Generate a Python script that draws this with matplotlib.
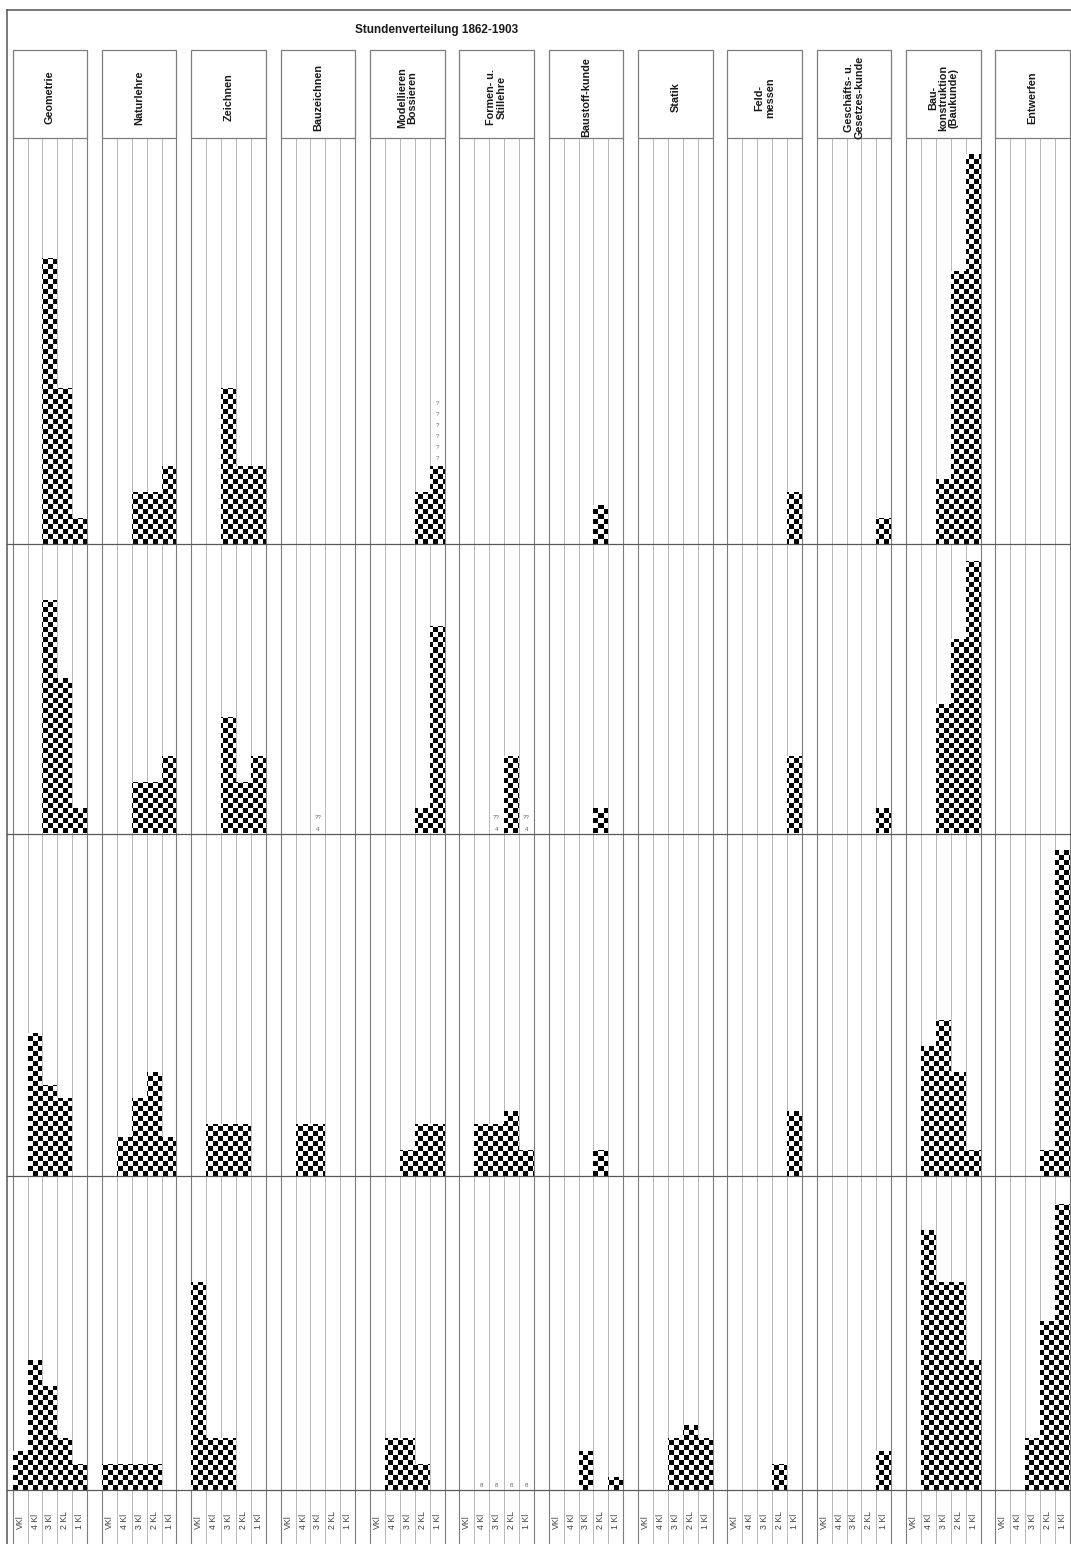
import numpy as np
import matplotlib
matplotlib.use("Agg")
import matplotlib.pyplot as plt
from matplotlib.path import Path
from matplotlib.patches import Rectangle
from matplotlib.lines import Line2D

plt.rcParams['font.family'] = ['Liberation Sans', 'DejaVu Sans']

# ---------------- data ----------------
title = "Stundenverteilung 1862-1903"
subjects = ["Geometrie", "Naturlehre", "Zeichnen", "Bauzeichnen",
            "Modellieren\nBossieren", "Formen- u.\nStillehre", "Baustoff-kunde",
            "Statik", "Feld-\nmessen", "Geschäfts- u.\nGesetzes-kunde",
            "Bau-\nkonstruktion\n(Baukunde)", "Entwerfen"]
classes = ["VKl", "4 Kl", "3 Kl", "2 KL", "1 Kl"]

# hours per class (VKl, 4 Kl, 3 Kl, 2 KL, 1 Kl) for each subject, four periods (top to bottom)
period1 = [[0, 0, 22, 12, 2], [0, 0, 4, 4, 6], [0, 0, 12, 6, 6], [0, 0, 0, 0, 0],
           [0, 0, 0, 4, 6], [0, 0, 0, 0, 0], [0, 0, 0, 3, 0], [0, 0, 0, 0, 0],
           [0, 0, 0, 0, 4], [0, 0, 0, 0, 2], [0, 0, 5, 21, 30], [0, 0, 0, 0, 0]]
period2 = [[0, 0, 18, 12, 2], [0, 0, 4, 4, 6], [0, 0, 9, 4, 6], [0, 0, 0, 0, 0],
           [0, 0, 0, 2, 16], [0, 0, 0, 6, 0], [0, 0, 0, 2, 0], [0, 0, 0, 0, 0],
           [0, 0, 0, 0, 6], [0, 0, 0, 0, 2], [0, 0, 10, 15, 21], [0, 0, 0, 0, 0]]
period3 = [[0, 11, 7, 6, 0], [0, 3, 6, 8, 3], [0, 4, 4, 4, 0], [0, 4, 4, 0, 0],
           [0, 0, 2, 4, 4], [0, 4, 4, 5, 2], [0, 0, 0, 2, 0], [0, 0, 0, 0, 0],
           [0, 0, 0, 0, 5], [0, 0, 0, 0, 0], [0, 10, 12, 8, 2], [0, 0, 0, 2, 25]]
period4 = [[3, 10, 8, 4, 2], [2, 2, 2, 2, 0], [16, 4, 4, 0, 0], [0, 0, 0, 0, 0],
           [0, 4, 4, 2, 0], [0, 0, 0, 0, 0], [0, 0, 3, 0, 1], [0, 0, 4, 5, 4],
           [0, 0, 0, 2, 0], [0, 0, 0, 0, 3], [0, 20, 16, 16, 10], [0, 0, 4, 13, 22]]
periods = [period1, period2, period3, period4]

# ---------------- layout ----------------
W, H = 1071, 1544
fig = plt.figure(figsize=(W / 100, H / 100), dpi=100)
fig.patch.set_facecolor("white")

X0 = 12.7          # left edge of column grid (px)
CW = 14.89         # column width (px)
NG = 12
NCOL = NG * 6
ROWS = [(137.5, 544.3), (544.3, 833.5), (833.5, 1175.5), (1175.5, 1490.0)]
PXH = 13.0         # px per hour
CELL = 5.0         # checker cell size (px)
HDR_TOP = 50.0
DARK = "#7d7d7d"
LIGHT = "#b8b8b8"


def fx(x):
    return x / W


def fy(y):
    return 1 - y / H


def vgrid(ax):
    for c in range(NCOL + 1):
        dark = (c % 6) in (0, 5)
        ax.axvline(c, color=DARK if dark else LIGHT, lw=0.8 if dark else 0.7,
                   zorder=1, clip_on=False)


axes = []
for r, (top, bot) in enumerate(ROWS):
    ax = fig.add_axes([fx(X0), fy(bot), NCOL * CW / W, (bot - top) / H])
    ymax = (bot - top) / PXH
    xs, hs = [], []
    for g, vals in enumerate(periods[r]):
        for k, v in enumerate(vals):
            xs.append(g * 6 + k)
            hs.append(v)
    bars = ax.bar(xs, hs, width=1, align="edge", facecolor="none",
                  edgecolor="none", zorder=2)
    # checkerboard fill clipped to the bars (cells of exactly CELL px)
    nx = int(np.ceil(NCOL * CW / CELL))
    ny = int(np.ceil((bot - top) / CELL))
    yy, xx = np.mgrid[0:ny, 0:nx]
    img = ((xx + yy) % 2).astype(float)
    im = ax.imshow(img, extent=(0, nx * CELL / CW, 0, ny * CELL / PXH),
                   origin="lower", cmap="gray", vmin=0, vmax=1,
                   interpolation="nearest", aspect="auto", zorder=3)
    paths = [p.get_path().transformed(p.get_patch_transform())
             for p in bars.patches if p.get_height() > 0]
    im.set_clip_path(Path.make_compound_path(*paths), transform=ax.transData)
    vgrid(ax)
    ax.set_xlim(0, NCOL)
    ax.set_ylim(0, ymax)
    ax.axis("off")
    axes.append(ax)

# annotations (question marks etc.)
ann = dict(ha="center", va="center", fontsize=4.5, color="#666666", zorder=5)
for i in range(6):
    axes[0].text(4 * 6 + 4 + 0.5, 6.6 + i * 0.85, "?", **ann)
for g, k in [(3, 2), (5, 2), (5, 4)]:
    axes[1].text(g * 6 + k + 0.5, 1.2, "??", **ann)
    axes[1].text(g * 6 + k + 0.5, 0.3, "4", **ann)
for k in [1, 2, 3, 4]:
    axes[3].text(5 * 6 + k + 0.5, 0.35, "8", **ann)

# header boxes
hax = fig.add_axes([fx(X0), fy(ROWS[0][0]), NCOL * CW / W, (ROWS[0][0] - HDR_TOP) / H])
hax.set_xlim(0, NCOL)
hax.set_ylim(0, 1)
hax.axis("off")
for g, name in enumerate(subjects):
    hax.add_patch(Rectangle((g * 6, 0), 5, 1, facecolor="white", edgecolor=DARK,
                            lw=0.9, clip_on=False))
    hax.text(g * 6 + 2.5, 0.457, name, rotation=90, ha="center", va="center",
             multialignment="center", fontsize=7.8, fontweight="bold",
             color="#1a1a1a", linespacing=1.05)

# bottom class labels
bax = fig.add_axes([fx(X0), 0, NCOL * CW / W, (H - ROWS[-1][1]) / H])
bax.set_xlim(0, NCOL)
bax.set_ylim(0, 1)
bax.axis("off")
vgrid(bax)
for g in range(NG):
    for k, lab in enumerate(classes):
        bax.text(g * 6 + k + 0.5, 0.28, lab, rotation=90, ha="center",
                 va="bottom", fontsize=6.3, color="#444444")

# horizontal separators and frame
for y in [ROWS[0][1], ROWS[1][1], ROWS[2][1], ROWS[3][1]]:
    fig.add_artist(Line2D([fx(6.7), fx(W)], [fy(y), fy(y)], color="#5a5a5a",
                          lw=0.9, transform=fig.transFigure))
fig.add_artist(Line2D([fx(6.7), fx(6.7)], [fy(9.6), 0], color="#555555",
                      lw=1.1, transform=fig.transFigure))
fig.add_artist(Line2D([fx(6.7), fx(W)], [fy(9.6), fy(9.6)], color="#555555",
                      lw=1.1, transform=fig.transFigure))

fig.text(fx(436.5), fy(30), title, ha="center", va="center", fontsize=8.5,
         fontweight="bold", color="#1a1a1a")

fig.savefig("out.png", dpi=100)
